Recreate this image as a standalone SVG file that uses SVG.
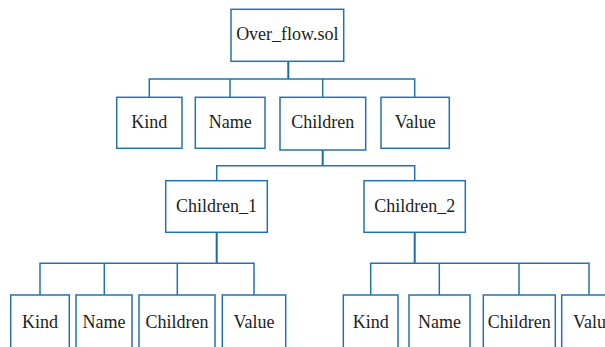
<svg xmlns="http://www.w3.org/2000/svg" width="605" height="347" viewBox="0 0 605 347">
<style>
.box{fill:#fff;stroke:#2572b3;stroke-width:1.5}
.ln{fill:none;stroke:#2572b3;stroke-width:1.5}
.stem{fill:none;stroke:#1f6aa8;stroke-width:2}
.t{font-family:'Liberation Serif','DejaVu Serif',serif;font-size:18px;fill:#222;text-anchor:middle}
</style>
<rect width="605" height="347" fill="#fff"/>
<g id="connectors">
<path class="stem" d="M288.3 61.3V79"/>
<path class="ln" d="M149.3 97.3V79H414.7V97.3M230 79V97.3M322.7 79V97.3"/>
<path class="stem" d="M322.7 150V165.7"/>
<path class="ln" d="M216.7 180.7V165.7H414.7V180.7"/>
<path class="stem" d="M216.7 232.3V263.3"/>
<path class="ln" d="M40 295V263.3H254V295M104.3 263.3V295M177.3 263.3V295"/>
<path class="stem" d="M414.7 232.3V263.3"/>
<path class="ln" d="M370.7 295V263.3H589V295M439.3 263.3V295M519 263.3V295"/>
</g>
<g id="root"><rect class="box" x="231" y="9.3" width="112.7" height="52"/><text class="t" font-family="Liberation Serif" x="287.3" y="39.5">Over_flow.sol</text></g>
<g id="kind"><rect class="box" x="116.7" y="97.3" width="65.3" height="51"/><text class="t" x="149.3" y="128">Kind</text></g>
<g id="name"><rect class="box" x="195.3" y="97.3" width="69.7" height="51"/><text class="t" x="230.2" y="128">Name</text></g>
<g id="children"><rect class="box" x="280" y="97.3" width="85.7" height="52.7"/><text class="t" x="322.8" y="128">Children</text></g>
<g id="value"><rect class="box" x="381" y="97.3" width="68.3" height="51"/><text class="t" x="415.2" y="128">Value</text></g>
<g id="children_1"><rect class="box" x="165.7" y="180.7" width="101.6" height="51.6"/><text class="t" x="216.5" y="211.7">Children_1</text></g>
<g id="children_2"><rect class="box" x="364" y="180.7" width="101.3" height="51.6"/><text class="t" x="414.7" y="211.7">Children_2</text></g>
<g id="c1_kind"><rect class="box" x="10.7" y="295" width="58.6" height="60"/><text class="t" x="40" y="327.7">Kind</text></g>
<g id="c1_name"><rect class="box" x="76" y="295" width="56" height="60"/><text class="t" x="104" y="327.7">Name</text></g>
<g id="c1_children"><rect class="box" x="139" y="295" width="76" height="60"/><text class="t" x="177" y="327.7">Children</text></g>
<g id="c1_value"><rect class="box" x="222.3" y="295" width="63.4" height="60"/><text class="t" x="254" y="327.7">Value</text></g>
<g id="c2_kind"><rect class="box" x="343.3" y="295" width="54.7" height="60"/><text class="t" x="370.7" y="327.7">Kind</text></g>
<g id="c2_name"><rect class="box" x="409" y="295" width="61" height="60"/><text class="t" x="439.5" y="327.7">Name</text></g>
<g id="c2_children"><rect class="box" x="483.3" y="295" width="72" height="60"/><text class="t" x="519.3" y="327.7">Children</text></g>
<g id="c2_value"><rect class="box" x="561.7" y="295" width="63.4" height="60"/><text class="t" x="593.4" y="327.7">Value</text></g>
</svg>
